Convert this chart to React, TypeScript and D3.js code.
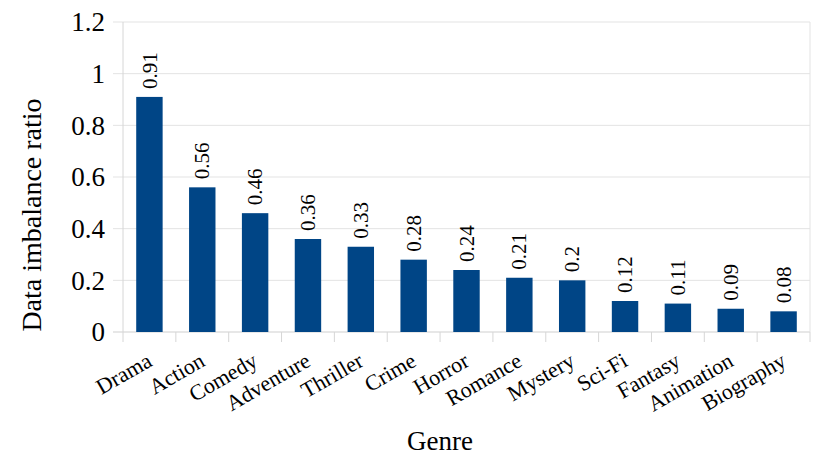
import React, { useEffect, useRef } from 'react';
import * as d3 from 'd3';

const genres = ['Drama', 'Action', 'Comedy', 'Adventure', 'Thriller', 'Crime', 'Horror', 'Romance', 'Mystery', 'Sci-Fi', 'Fantasy', 'Animation', 'Biography'];
const ratios = [0.91, 0.56, 0.46, 0.36, 0.33, 0.28, 0.24, 0.21, 0.2, 0.12, 0.11, 0.09, 0.08];
const yTicks = [0, 0.2, 0.4, 0.6, 0.8, 1, 1.2];

const W = 830;
const H = 467;

export default function App() {
    const svgRef = useRef<SVGSVGElement>(null);

    useEffect(() => {
        if (!svgRef.current) return;
        const svg = d3.select(svgRef.current);
        svg.selectAll('*').remove();

        const margin = { top: 22, right: 20, bottom: 135, left: 123 };
        const width = W - margin.left - margin.right;
        const height = H - margin.top - margin.bottom;

        const g = svg.append('g')
            .attr('transform', `translate(${margin.left},${margin.top})`);

        const x = d3.scaleBand<string>()
            .domain(genres)
            .range([0, width])
            .paddingInner(0.5)
            .paddingOuter(0.25);

        const y = d3.scaleLinear()
            .domain([0, 1.2])
            .range([height, 0]);

        const step = x.step();
        const serif = "'Liberation Serif', 'Times New Roman', serif";

        // horizontal gridlines + little ticks on the left
        g.selectAll('line.grid')
            .data(yTicks)
            .join('line')
            .attr('class', 'grid')
            .attr('x1', -10)
            .attr('x2', width)
            .attr('y1', d => y(d))
            .attr('y2', d => y(d))
            .attr('stroke', d => d === 0 ? '#cfcfcf' : '#e3e3e3')
            .attr('stroke-width', 1);

        // frame left/right
        g.append('line')
            .attr('x1', 0).attr('x2', 0)
            .attr('y1', 0).attr('y2', height)
            .attr('stroke', '#d6d6d6');
        g.append('line')
            .attr('x1', width).attr('x2', width)
            .attr('y1', 0).attr('y2', height)
            .attr('stroke', '#e3e3e3');

        // category tick marks below the axis
        g.selectAll('line.xtick')
            .data(d3.range(genres.length + 1))
            .join('line')
            .attr('class', 'xtick')
            .attr('x1', i => i * step)
            .attr('x2', i => i * step)
            .attr('y1', height)
            .attr('y2', height + 10)
            .attr('stroke', '#d6d6d6');

        // y tick labels
        g.selectAll('text.ytick')
            .data(yTicks)
            .join('text')
            .attr('class', 'ytick')
            .attr('x', -18)
            .attr('y', d => y(d))
            .attr('dy', '0.34em')
            .attr('text-anchor', 'end')
            .style('font-family', serif)
            .style('font-size', '27px')
            .attr('fill', '#000')
            .text(d => String(d));

        // bars
        g.selectAll('rect.bar')
            .data(ratios)
            .join('rect')
            .attr('class', 'bar')
            .attr('x', (_, i) => x(genres[i])!)
            .attr('y', d => y(d))
            .attr('width', x.bandwidth())
            .attr('height', d => height - y(d))
            .attr('fill', '#004586');

        // value labels
        g.selectAll('text.val')
            .data(ratios)
            .join('text')
            .attr('class', 'val')
            .attr('transform', (d, i) => `translate(${x(genres[i])! + x.bandwidth() / 2},${y(d) - 8}) rotate(-90)`)
            .attr('dy', '0.34em')
            .style('font-family', serif)
            .style('font-size', '21px')
            .attr('fill', '#000')
            .text(d => String(d));

        // category labels
        g.selectAll('text.cat')
            .data(genres)
            .join('text')
            .attr('class', 'cat')
            .attr('transform', d => `translate(${x(d)! + x.bandwidth() / 2 + 4},${height + 33}) rotate(-30)`)
            .attr('text-anchor', 'end')
            .style('font-family', serif)
            .style('font-size', '22px')
            .attr('fill', '#000')
            .text(d => d);

        // axis titles
        svg.append('text')
            .attr('transform', `translate(41,215) rotate(-90)`)
            .attr('text-anchor', 'middle')
            .style('font-family', serif)
            .style('font-size', '28px')
            .attr('fill', '#000')
            .text('Data imbalance ratio');

        svg.append('text')
            .attr('x', 440)
            .attr('y', 450)
            .attr('text-anchor', 'middle')
            .style('font-family', serif)
            .style('font-size', '27px')
            .attr('fill', '#000')
            .text('Genre');
    }, []);

    return (
        <div style={{ position: 'absolute', left: 0, top: 0, width: W, height: H, background: '#fff' }}>
            <svg ref={svgRef} width={W} height={H} />
        </div>
    );
}
